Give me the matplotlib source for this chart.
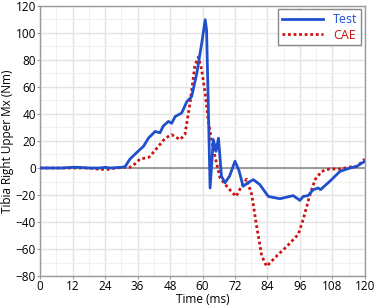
import matplotlib
matplotlib.use("Agg")
import matplotlib.pyplot as plt
from matplotlib.ticker import MultipleLocator

plt.rcParams['font.family'] = ['Open Sans', 'DejaVu Sans']

# Test curve (time ms, moment Nm)
test_t = [0, 8, 12, 14, 18, 22, 24, 26, 30, 31.4, 33.2, 36, 38.2, 40, 42.5, 44.3, 45.5, 47.4,
          48.6, 49.9, 52.3, 54.2, 56, 57.9, 59.7, 61, 61.5, 62.1, 62.8, 64, 65, 65.9, 67, 68.3,
          70, 72, 73.5, 75, 77.5, 78.8, 81.2, 84.3, 88.6, 93.5, 96, 97.2, 99, 100.9, 102.8,
          103.6, 107, 110.8, 114.5, 117, 120]
test_v = [0, 0, 0.5, 0.5, 0, 0, 0.5, 0, 0.5, 1, 6.6, 12, 16, 22, 27, 26, 31, 34.4,
          33, 38, 40.6, 49, 52.8, 70, 92, 109.5, 102, 50, -14.8, 21, 12.3, 22, -6, -11,
          -6, 5, -2, -13.5, -10, -8.6, -12.3, -21, -22.7, -20.4, -23.9, -21, -20.4, -16, -14.8,
          -16, -9.9, -2.5, 0, 1.2, 5]

# CAE curve
cae_t = [0, 10, 18, 22, 25, 28, 31, 33.2, 35, 36.9, 40, 40.6, 43.7, 46.2, 48.6, 51.7, 53.5,
         55.4, 57.2, 58.5, 59.7, 61, 62.1, 63.3, 64.6, 66.5, 69.5, 72.4, 74.4, 76.3, 78.2, 80,
         81.9, 83.7, 87.4, 91.1, 95.4, 97.2, 99.7, 101.6, 104, 107, 110.8, 114.5, 117, 120]
cae_v = [0, 0, 0, -1, -1, 0, 0.5, 0.5, 3, 6.6, 7.8, 8.6, 16, 22, 24.6, 21, 24.6,
         48, 76, 82, 72.5, 55, 35.6, 21, 8.6, -7.4, -14.8, -21, -13.5, -8.2, -19.7, -43,
         -65, -72.6, -65, -58, -49, -38, -19.7, -8.6, -2.5, -0.7, -0.7, 0.7, 1, 6.6]

fig = plt.figure(figsize=(3.75, 3.06), dpi=100)
ax = fig.add_axes([0.107, 0.097, 0.866, 0.885])

ax.axhline(0, color='#8c8c8c', lw=1.2, zorder=1)
ax.plot(test_t, test_v, color='#1f4fcc', lw=2.0, label='Test', zorder=3)
ax.plot(cae_t, cae_v, color='#cc1111', lw=2.0, ls=(0, (1, 1)), label='CAE', zorder=2)

ax.set_xlim(0, 120)
ax.set_ylim(-80, 120)
ax.xaxis.set_major_locator(MultipleLocator(12))
ax.xaxis.set_minor_locator(MultipleLocator(6))
ax.yaxis.set_major_locator(MultipleLocator(20))
ax.yaxis.set_minor_locator(MultipleLocator(10))
ax.grid(which='major', color='#e3e3e3', lw=1.0)
ax.grid(which='minor', color='#f0f0f0', lw=0.8)
ax.set_axisbelow(True)
for s in ax.spines.values():
    s.set_color('#999999')
    s.set_linewidth(1.0)
ax.tick_params(which='both', labelsize=8.5, color='#999999', length=2, pad=1.0)
ax.tick_params(which='minor', length=0)

ax.set_xlabel('Time (ms)', fontsize=8.5, labelpad=-0.5)
ax.set_ylabel('Tibia Right Upper Mx (Nm)', fontsize=8.5, labelpad=1)

leg = ax.legend(loc='upper right', fontsize=9, fancybox=False, framealpha=1,
                edgecolor='#888888', handlelength=3.3, borderpad=0.3, labelspacing=0.2,
                borderaxespad=0.3)
for txt, c in zip(leg.get_texts(), ['#1f4fcc', '#cc1111']):
    txt.set_color(c)

fig.savefig('out.png', dpi=100)
